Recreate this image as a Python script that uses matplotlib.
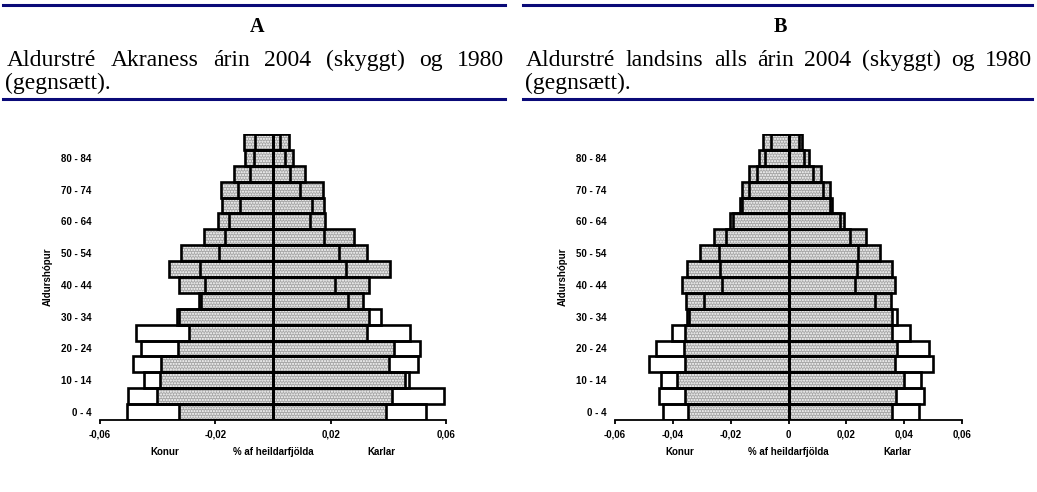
import matplotlib

matplotlib.use("Agg")
import matplotlib.pyplot as plt
import numpy as np
from matplotlib.ticker import FuncFormatter

W, H = 1037, 492

AGES = ["0 - 4", "5 - 9", "10 - 14", "15 - 19", "20 - 24", "25 - 29", "30 - 34",
        "35 - 39", "40 - 44", "45 - 49", "50 - 54", "55 - 59", "60 - 64",
        "65 - 69", "70 - 74", "75 - 79", "80 - 84", "85+"]

# Akranes (share of total population), women read as positive
A_F_2004 = [.0325, .0402, .0391, .0388, .0331, .0290, .0327, .0258, .0327,
            .0362, .0319, .0240, .0192, .0177, .0179, .0134, .0096, .0099]
A_F_1980 = [.0506, .0503, .0446, .0487, .0458, .0474, .0333, .0249, .0237,
            .0254, .0186, .0165, .0154, .0116, .0123, .0081, .0067, .0061]
A_M_2004 = [.0392, .0413, .0459, .0403, .0421, .0326, .0334, .0311, .0332,
            .0405, .0326, .0280, .0182, .0176, .0173, .0112, .0068, .0054]
A_M_1980 = [.0532, .0592, .0473, .0502, .0511, .0476, .0375, .0259, .0214,
            .0254, .0230, .0176, .0127, .0135, .0095, .0060, .0043, .0023]

# Iceland as a whole
B_F_2004 = [.0347, .0357, .0385, .0357, .0362, .0357, .0345, .0353, .0368,
            .0350, .0305, .0257, .0201, .0168, .0162, .0138, .0103, .0088]
B_F_1980 = [.0434, .0449, .0442, .0482, .0459, .0402, .0351, .0292, .0230,
            .0238, .0241, .0217, .0192, .0162, .0137, .0110, .0080, .0062]
B_M_2004 = [.0359, .0372, .0400, .0368, .0376, .0357, .0359, .0353, .0368,
            .0357, .0318, .0267, .0192, .0152, .0143, .0111, .0072, .0047]
B_M_1980 = [.0451, .0470, .0457, .0498, .0486, .0420, .0376, .0299, .0230,
            .0238, .0239, .0212, .0178, .0145, .0120, .0085, .0053, .0035]

A_TICKS = [-0.06, -0.02, 0.02, 0.06]
B_TICKS = [-0.06, -0.04, -0.02, 0, 0.02, 0.04, 0.06]

A_TITLE = "A"
A_LINE1 = "Aldurstré Akraness árin 2004 (skyggt) og 1980"
A_LINE2 = "(gegnsætt)."
B_TITLE = "B"
B_LINE1 = "Aldurstré landsins alls árin 2004 (skyggt) og 1980"
B_LINE2 = "(gegnsætt)."

NAVY = "#0a0a78"
SERIF = "Liberation Serif"
SANS = "Liberation Sans"


def comma_fmt(v, _pos):
    if abs(v) < 1e-9:
        return "0"
    return f"{v:.2f}".replace(".", ",")


def draw_pyramid(ax, f04, f80, m04, m80, ticks):
    y = np.arange(len(AGES))
    f04 = -np.asarray(f04)
    f80 = -np.asarray(f80)
    m04 = np.asarray(m04)
    m80 = np.asarray(m80)
    # 2004: shaded bars; 1980: outline only, drawn on top
    for vals in (f04, m04):
        ax.barh(y, vals, height=1.0, color="#a6a6a6", hatch="......",
                edgecolor="white", linewidth=0, zorder=2)
        ax.barh(y, vals, height=1.0, fill=False, edgecolor="black",
                linewidth=1.9, zorder=3)
    for vals in (f80, m80):
        ax.barh(y, vals, height=1.0, fill=False, edgecolor="black",
                linewidth=1.9, zorder=4)

    ax.set_xlim(-0.06, 0.06)
    ax.set_ylim(-0.5, len(AGES) - 0.5)
    ax.set_xticks(ticks)
    ax.xaxis.set_major_formatter(FuncFormatter(comma_fmt))
    ax.set_yticks(y[::2])
    ax.set_yticklabels(AGES[::2])
    for side in ("top", "right", "left"):
        ax.spines[side].set_visible(False)
    ax.spines["bottom"].set_linewidth(1.3)
    ax.tick_params(axis="x", length=3, width=1.3, pad=4, labelsize=7)
    ax.tick_params(axis="y", length=0, pad=6, labelsize=7)
    for lab in ax.get_xticklabels() + ax.get_yticklabels():
        lab.set_fontweight("bold")
        lab.set_fontfamily(SANS)
    ax.set_ylabel("Aldurshópur", fontsize=7, fontweight="bold",
                  fontfamily=SANS, labelpad=6)
    tr = ax.get_xaxis_transform()
    for xv, txt in ((-0.0375, "Konur"), (0.0, "% af heildarfjölda"), (0.0375, "Karlar")):
        ax.text(xv, -0.112, txt, transform=tr, ha="center", va="center",
                fontsize=7, fontweight="bold", fontfamily=SANS)


def justify(fig, renderer, text, x0, x1, y_px, size):
    """Spread the words of one line between pixel x0 and x1 (baseline y_px from top)."""
    words = text.split()
    arts = [fig.text(0, 1 - y_px / H, w, fontsize=size, fontfamily=SERIF,
                     va="baseline", ha="left") for w in words]
    widths = [a.get_window_extent(renderer).width for a in arts]
    gap = (x1 - x0 - sum(widths)) / (len(words) - 1)
    x = x0
    for a, w in zip(arts, widths):
        a.set_x(x / W)
        x += w + gap


def draw_header(fig, renderer, title, line1, line2, lx0, lx1, tx0, tx1):
    for yy in (5, 99):
        fig.add_artist(plt.Line2D([lx0 / W, lx1 / W], [1 - yy / H] * 2,
                                  color=NAVY, linewidth=2.2))
    fig.text((lx0 + lx1 + 6) / 2 / W, 1 - 32 / H, title, fontsize=14.5,
             fontweight="bold", fontfamily=SERIF, ha="center", va="baseline")
    justify(fig, renderer, line1, tx0, tx1, 66, 17)
    fig.text((lx0 + 2) / W, 1 - 89 / H, line2, fontsize=17,
             fontfamily=SERIF, ha="left", va="baseline")


fig = plt.figure(figsize=(W / 100, H / 100), dpi=100)
renderer = fig.canvas.get_renderer()

ax_a = fig.add_axes([100 / W, 1 - 420 / H, 346 / W, 286 / H])
ax_b = fig.add_axes([615 / W, 1 - 420 / H, 347 / W, 286 / H])
draw_pyramid(ax_a, A_F_2004, A_F_1980, A_M_2004, A_M_1980, A_TICKS)
draw_pyramid(ax_b, B_F_2004, B_F_1980, B_M_2004, B_M_1980, B_TICKS)

draw_header(fig, renderer, A_TITLE, A_LINE1, A_LINE2, 3, 505, 7, 504)
draw_header(fig, renderer, B_TITLE, B_LINE1, B_LINE2, 523, 1032, 526, 1032)

fig.savefig("out.png", dpi=100)
